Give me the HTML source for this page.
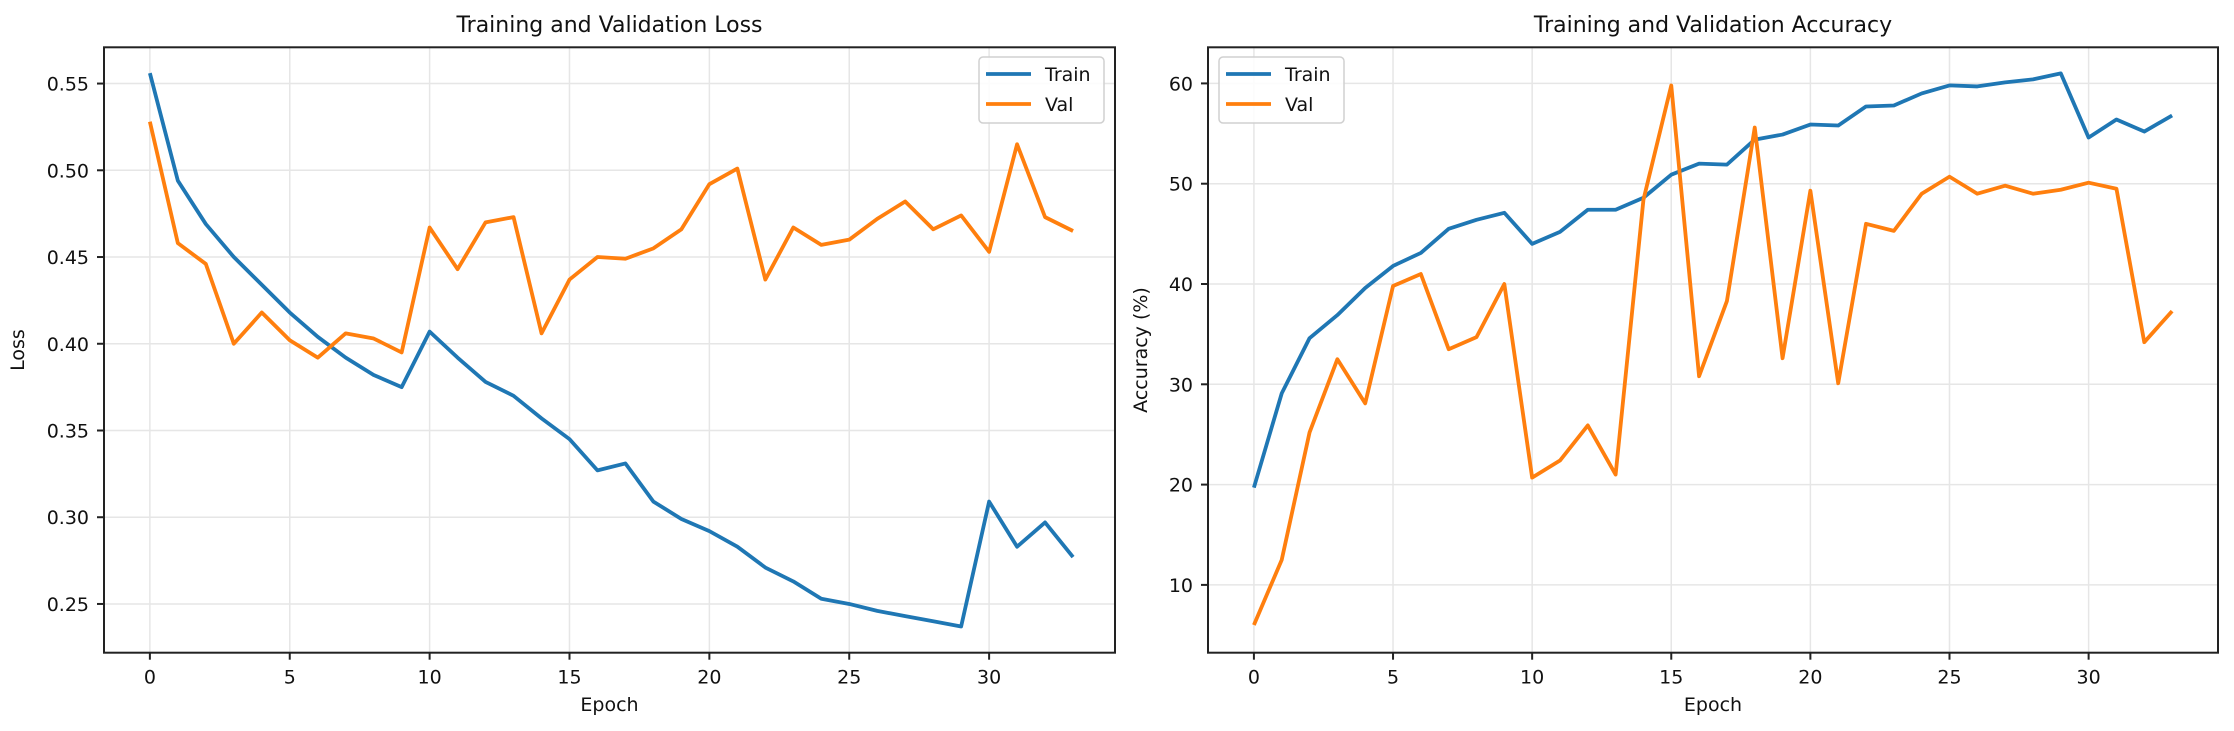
<!DOCTYPE html>
<html><head><meta charset="utf-8"><style>
html,body{margin:0;padding:0;background:#fff;}
svg{display:block;font-family:"DejaVu Sans","Liberation Sans",sans-serif;}
</style></head><body>
<svg id="fig" width="2234" height="731" viewBox="0 0 2234 731" xmlns="http://www.w3.org/2000/svg"></svg>
<script>
const epochs = [0,1,2,3,4,5,6,7,8,9,10,11,12,13,14,15,16,17,18,19,20,21,22,23,24,25,26,27,28,29,30,31,32,33];
const lossTrain = [0.556,0.494,0.469,0.450,0.434,0.418,0.404,0.392,0.382,0.375,0.407,0.392,0.378,0.370,0.357,0.345,0.327,0.331,0.309,0.299,0.292,0.283,0.271,0.263,0.253,0.250,0.246,0.243,0.240,0.237,0.309,0.283,0.297,0.277];
const lossVal = [0.528,0.458,0.446,0.400,0.418,0.402,0.392,0.406,0.403,0.395,0.467,0.443,0.470,0.473,0.406,0.437,0.450,0.449,0.455,0.466,0.492,0.501,0.437,0.467,0.457,0.460,0.472,0.482,0.466,0.474,0.453,0.515,0.473,0.465];
const accTrain = [19.7,29.1,34.6,36.9,39.6,41.8,43.1,45.5,46.4,47.1,44.0,45.2,47.4,47.4,48.6,50.9,52.0,51.9,54.4,54.9,55.9,55.8,57.7,57.8,59.0,59.8,59.7,60.1,60.4,61.0,54.6,56.4,55.2,56.8];
const accVal = [6.0,12.5,25.2,32.5,28.1,39.8,41.0,33.5,34.7,40.0,20.7,22.4,25.9,21.0,48.4,59.8,30.8,38.3,55.6,32.6,49.3,30.1,46.0,45.3,49.0,50.7,49.0,49.8,49.0,49.4,50.1,49.5,34.2,37.3];
const xTicks = [0,5,10,15,20,25,30];
const lossTicks = [0.25,0.30,0.35,0.40,0.45,0.50,0.55];
const lossTickLabels = ["0.25","0.30","0.35","0.40","0.45","0.50","0.55"];
const accTicks = [10,20,30,40,50,60];
const accTickLabels = ["10","20","30","40","50","60"];

const NS="http://www.w3.org/2000/svg";
const svg=document.getElementById('fig');
function mk(tag,attrs,parent){const e=document.createElementNS(NS,tag);for(const k in attrs)e.setAttribute(k,attrs[k]);(parent||svg).appendChild(e);return e;}

function panel(o){
  const g=mk('g',{});
  
  
  const sx=v=>o.x0+(v-o.xmin)/(o.xmax-o.xmin)*(o.x1-o.x0);
  const sy=v=>o.y1-(v-o.ymin)/(o.ymax-o.ymin)*(o.y1-o.y0);
  xTicks.forEach(t=>{const l=mk('line',{x1:sx(t),x2:sx(t),y1:o.y0,y2:o.y1,stroke:'#e6e6e6','stroke-width':1.5},g);
    });
  o.yt.forEach(t=>{const l=mk('line',{x1:o.x0,x2:o.x1,y1:sy(t),y2:sy(t),stroke:'#e6e6e6','stroke-width':1.5},g);
    });
  const series=[[o.train,'#1f77b4','train-line'],[o.val,'#ff7f0e','val-line']];
  series.forEach(([d,c,n])=>{
    const p=mk('polyline',{points:epochs.map((e,i)=>sx(e)+','+sy(d[i])).join(' '),fill:'none',stroke:c,'stroke-width':3.8,'stroke-linejoin':'round'},g);
    
  });
  const f=mk('rect',{x:o.x0,y:o.y0,width:o.x1-o.x0,height:o.y1-o.y0,fill:'none',stroke:'#222','stroke-width':2},g);
  
  xTicks.forEach(t=>{mk('line',{x1:sx(t),x2:sx(t),y1:o.y1,y2:o.y1+7,stroke:'#222','stroke-width':2},g);
    const tx=mk('text',{x:sx(t),y:o.y1+31,'font-size':19,'text-anchor':'middle',fill:'#111'},g);tx.textContent=t;
    });
  o.yt.forEach((t,i)=>{mk('line',{x1:o.x0-7,x2:o.x0,y1:sy(t),y2:sy(t),stroke:'#222','stroke-width':2},g);
    const tx=mk('text',{x:o.x0-15,y:sy(t)+7,'font-size':19,'text-anchor':'end',fill:'#111'},g);tx.textContent=o.ytl[i];
    });
  const cx=(o.x0+o.x1)/2;
  const ti=mk('text',{x:cx,y:32,'font-size':22,'text-anchor':'middle',fill:'#111'},g);ti.textContent=o.title;
  
  const xl=mk('text',{x:cx,y:711,'font-size':19,'text-anchor':'middle',fill:'#111'},g);xl.textContent='Epoch';
  
  const yc=(o.y0+o.y1)/2;
  const yl=mk('text',{x:o.ylx,y:yc,'font-size':19,'text-anchor':'middle',fill:'#111',transform:`rotate(-90 ${o.ylx} ${yc})`},g);yl.textContent=o.ylabel;
  
  const lg=mk('g',{},g);
  
  mk('rect',{x:o.lx,y:57,width:125,height:66,rx:4,fill:'#fff','fill-opacity':0.85,stroke:'#d0d0d0','stroke-width':1.5},lg);
  [['Train','#1f77b4',74],['Val','#ff7f0e',104]].forEach(([t,c,y])=>{
    const e=mk('g',{},lg);
    
    mk('line',{x1:o.lx+7,x2:o.lx+52,y1:y,y2:y,stroke:c,'stroke-width':3.8},e);
    const tx=mk('text',{x:o.lx+66,y:y+7,'font-size':19,fill:'#111'},e);tx.textContent=t;
  });
}
panel({name:'loss-chart',x0:104,x1:1115,y0:47.3,y1:652.7,xmin:-1.64,xmax:34.5,ymin:0.2219,ymax:0.5709,
  yt:lossTicks,ytl:lossTickLabels,train:lossTrain,val:lossVal,title:'Training and Validation Loss',ylabel:'Loss',ylx:24,lx:979});
panel({name:'accuracy-chart',x0:1208,x1:2218,y0:47.3,y1:652.7,xmin:-1.65,xmax:34.65,ymin:3.24,ymax:63.6,
  yt:accTicks,ytl:accTickLabels,train:accTrain,val:accVal,title:'Training and Validation Accuracy',ylabel:'Accuracy (%)',ylx:1147,lx:1219});
</script>
</body></html>
